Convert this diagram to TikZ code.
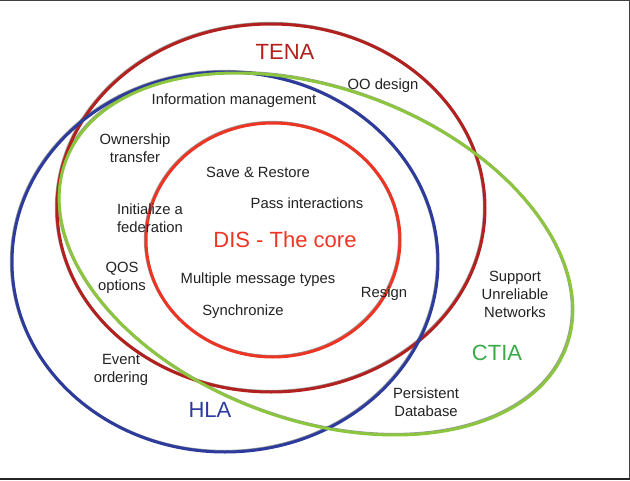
\documentclass[tikz,border=0pt]{standalone}
\usepackage{fontspec}
\setmainfont{Liberation Sans}
\definecolor{tenared}{HTML}{B3211F}
\definecolor{disred}{HTML}{EE3524}
\definecolor{hlablue}{HTML}{2D3C9C}
\definecolor{ctiagreen}{HTML}{8CC63F}
\definecolor{ctiatext}{HTML}{3AAA48}
\definecolor{ink}{HTML}{222222}
\begin{document}
\begin{tikzpicture}[x=1pt,y=-1pt,
  ring/.style={line width=3pt},
  edge/.style={line width=3pt, black, draw opacity=0.4, shift={(-0.6,-0.6)}},
  lbl/.style={font=\fontsize{14.8}{18}\selectfont, align=center, text=ink, inner sep=0pt},
  big/.style={font=\fontsize{22}{26}\selectfont, inner sep=0pt}]
\useasboundingbox (0,0) rectangle (630,480);
\fill[white] (0,0) rectangle (630,480);

% page frame
\draw[line width=1pt, black!75] (0,0.5) -- (629.5,0.5) -- (629.5,479);
\draw[line width=2pt, black!85] (0,479) -- (630,479);

% dark rim under each ring
\draw[edge] (271,208) ellipse [x radius=214pt, y radius=184pt];
\draw[edge] (225,262) ellipse [x radius=213pt, y radius=190pt];
\draw[edge, rotate around={-20.4:(316,254)}] (316,254) ellipse [x radius=267pt, y radius=165.6pt];
\draw[edge] (273,240) ellipse [x radius=127pt, y radius=117pt];

% the four sets
\draw[ring, tenared] (271,208) ellipse [x radius=214pt, y radius=184pt];
\draw[ring, hlablue] (225,262) ellipse [x radius=213pt, y radius=190pt];
\draw[ring, ctiagreen, rotate around={-20.4:(316,254)}] (316,254) ellipse [x radius=267pt, y radius=165.6pt];
\draw[ring, disred] (273,240) ellipse [x radius=127pt, y radius=117pt];

% set names
\node[big, text=tenared] (tena) at (285,52) {TENA};
\node[big, text=disred] (dis) at (285,240) {DIS - The core};
\node[big, text=hlablue] (hla) at (210,410) {HLA};
\node[big, text=ctiatext] (ctia) at (497,353) {CTIA};

% capabilities
\node[lbl] (oo) at (383,86) {OO design};
\node[lbl] (info) at (234,101) {Information management};
\node[lbl] (own) at (135,148) {Ownership\\transfer};
\node[lbl] (init) at (150,218) {Initialize a\\federation};
\node[lbl] (qos) at (122,278) {QOS\\options};
\node[lbl] (event) at (121,370) {Event\\ordering};
\node[lbl] (save) at (258,172) {Save \& Restore};
\node[lbl] (pass) at (307,203) {Pass interactions};
\node[lbl] (multi) at (258,280) {Multiple message types};
\node[lbl] (sync) at (243,312) {Synchronize};
\node[lbl] (resign) at (384,294) {Resign};
\node[lbl] (support) at (515,294) {Support\\Unreliable\\Networks};
\node[lbl] (persist) at (426,402) {Persistent\\Database};
\end{tikzpicture}
\end{document}
